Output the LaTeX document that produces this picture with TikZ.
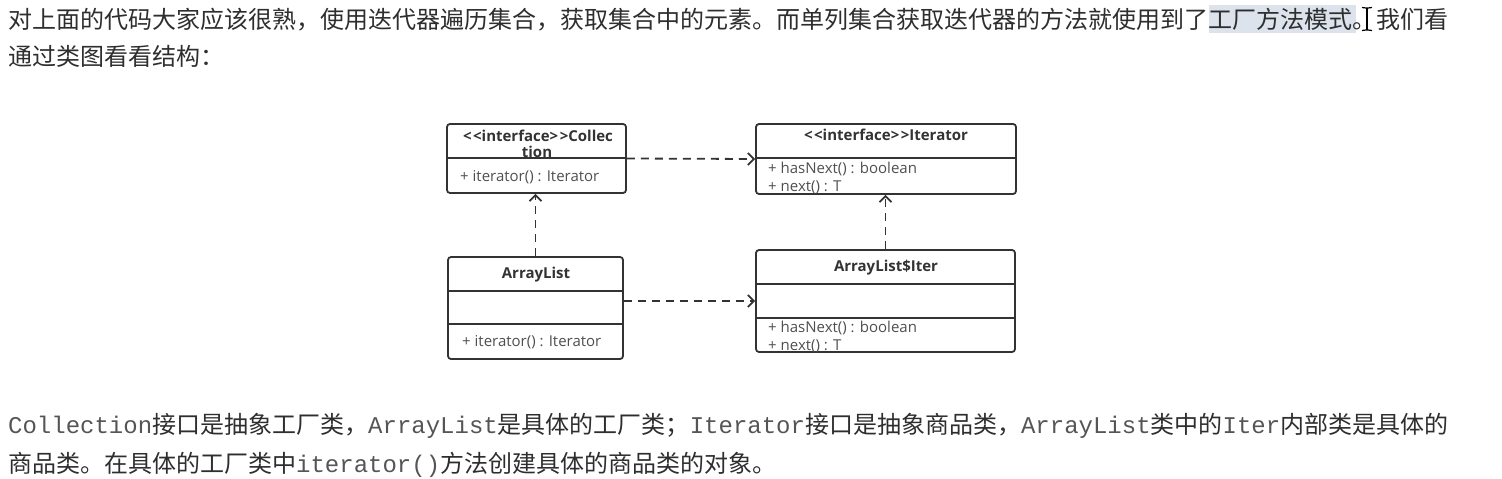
\documentclass[tikz,border=0pt]{standalone}
\usepackage{fontspec}
\usetikzlibrary{arrows.meta}
\newfontfamily\cjk{Noto Sans CJK SC}
\newfontfamily\monof{Liberation Mono}
\newfontfamily\umlf{Open Sans}
\definecolor{txt}{HTML}{2E2E2E}
\definecolor{codegray}{HTML}{555555}
\definecolor{hl}{HTML}{DCE3EC}
\definecolor{stroke}{HTML}{333333}
\definecolor{attr}{HTML}{4F4F4F}
\newcommand\mycode[1]{{\monof\color{codegray}#1}}
\newcommand\stereo[1]{<\kern1.5pt<#1>\kern1.5pt>}
\tikzset{
  para/.style={anchor=base west, inner sep=0pt, text=txt, font=\cjk\fontsize{24}{24}\selectfont},
  umlbox/.style={draw=stroke, line width=1.8pt, rounded corners=3pt, inner sep=0pt},
  divline/.style={draw=stroke, line width=1.6pt},
  hdr/.style={inner sep=0pt, text=stroke, font=\umlf\bfseries\fontsize{15}{15}\selectfont},
  attrtxt/.style={anchor=west, inner sep=0pt, text=attr, font=\umlf\fontsize{15}{15}\selectfont},
  dep/.style={draw=stroke, line width=1.8pt, dash pattern=on 8pt off 6pt, -{Straight Barb[length=6pt,width=12pt,line width=1.8pt]}}
}
\begin{document}
\begin{tikzpicture}[x=1pt,y=-1pt]
\useasboundingbox (0,0) rectangle (1502,479);
% selection highlight and text cursor
\fill[hl] (1209,5) rectangle (1356,33);
% paragraph text
\node[para] (p1) at (8,28) {对上面的代码大家应该很熟，使用迭代器遍历集合，获取集合中的元素。而单列集合获取迭代器的方法就使用到了工厂方法模式。};
\node[para] (p1b) at (1376,28) {我们看};
\node[para] (p2) at (8,65) {通过类图看看结构：};
\draw[black, line width=1.4pt] (1367,8) -- (1367,30);
\draw[black, line width=1.2pt] (1362,7.5) -- (1366,8) -- (1368,8) -- (1372,7.5);
\draw[black, line width=1.2pt] (1362,30.5) -- (1366,30) -- (1368,30) -- (1372,30.5);
% boxes
\node[umlbox, minimum width=179pt, minimum height=69pt] (coll) at (536.5,158.5) {};
\node[umlbox, minimum width=260pt, minimum height=70pt] (iter) at (886,159) {};
\node[umlbox, minimum width=175pt, minimum height=102pt] (al) at (535.5,308) {};
\node[umlbox, minimum width=259pt, minimum height=102pt] (ali) at (885.5,301) {};
% dividers
\draw[divline] (coll.west |- 0,158) -- (coll.east |- 0,158);
\draw[divline] (iter.west |- 0,158) -- (iter.east |- 0,158);
\draw[divline] (al.west |- 0,291) -- (al.east |- 0,291);
\draw[divline] (al.west |- 0,324) -- (al.east |- 0,324);
\draw[divline] (ali.west |- 0,284) -- (ali.east |- 0,284);
\draw[divline] (ali.west |- 0,318) -- (ali.east |- 0,318);
% box texts
\node[hdr] (collh1) at (538,136) {\stereo{interface}Collec};
\node[hdr] (collh2) at (537,152) {tion};
\node[attrtxt] (colla) at (460,177) {+ iterator() : Iterator};
\node[hdr] (iterh) at (886,135) {\stereo{interface}Iterator};
\node[attrtxt] (itera1) at (768,169) {+ hasNext() : boolean};
\node[attrtxt] (itera2) at (768,187) {+ next() : T};
\node[hdr] (alh) at (536,275) {ArrayList};
\node[attrtxt] (ala) at (462,342) {+ iterator() : Iterator};
\node[hdr] (alih) at (886,268) {ArrayList\$Iter};
\node[attrtxt] (alia1) at (768,328) {+ hasNext() : boolean};
\node[attrtxt] (alia2) at (768,346) {+ next() : T};
% connectors
\draw[dep] (coll.east) -- (iter.west);
\draw[dep] (al.east |- ali.west) -- (ali.west);
\draw[dep] (al.north) -- (al.north |- coll.south);
\draw[dep] (ali.north) -- (ali.north |- iter.south);
% bottom text
\node[para] (p3) at (8,433) {\mycode{Collection}接口是抽象工厂类，\mycode{ArrayList}是具体的工厂类；\mycode{Iterator}接口是抽象商品类，\mycode{ArrayList}类中的\mycode{Iter}内部类是具体的};
\node[para] (p4) at (8,472) {商品类。在具体的工厂类中\mycode{iterator()}方法创建具体的商品类的对象。};
\end{tikzpicture}
\end{document}
